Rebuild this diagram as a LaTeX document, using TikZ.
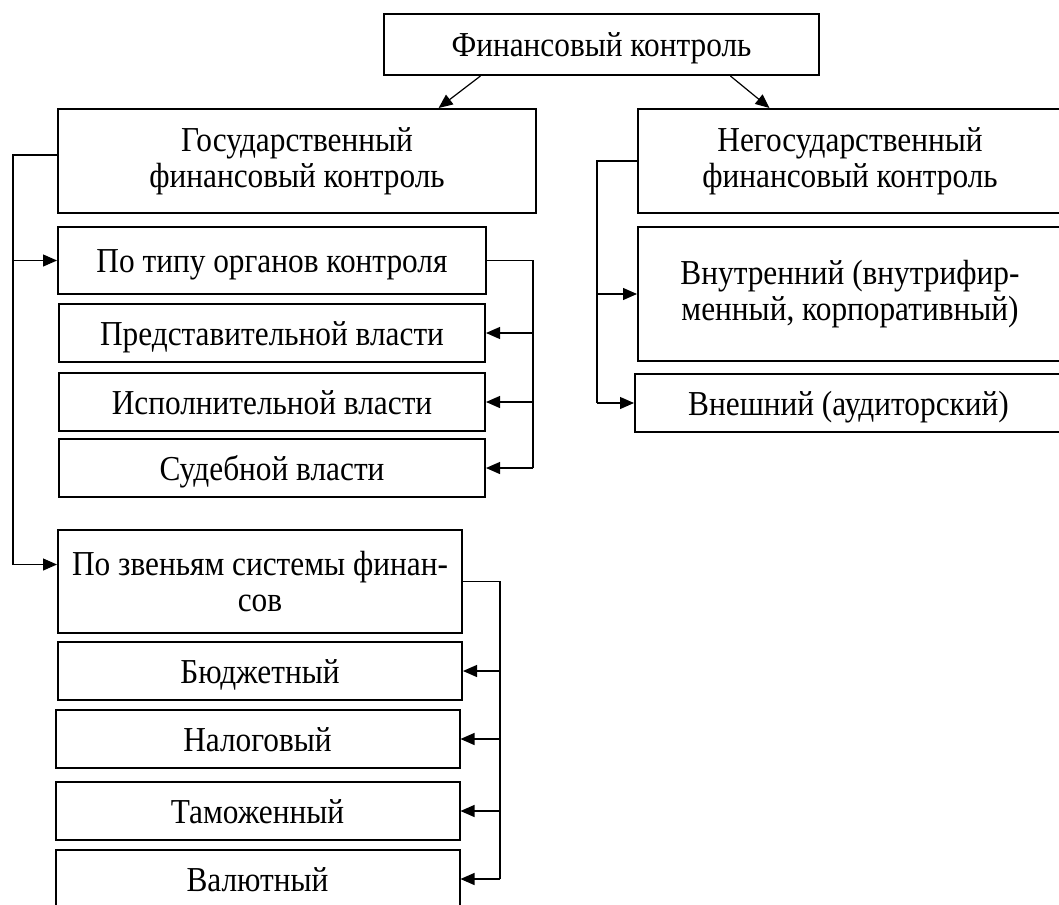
\documentclass[tikz,border=0pt]{standalone}
\usepackage{fontspec}
\setmainfont{Liberation Serif}[FakeStretch=0.895]
\usetikzlibrary{positioning,calc,arrows.meta}

\tikzset{
  box/.style={draw, line width=1pt, inner sep=0pt, align=center,
    font=\fontsize{17.5}{17.8}\selectfont},
  line box/.style={box, text height=12.5pt, text depth=0.5pt},
  sub box/.style={line box, minimum width=213pt, minimum height=29pt},
  link box/.style={line box, minimum width=202pt, minimum height=29pt},
  link/.style={line width=0.6pt}
}

\begin{document}
\begin{tikzpicture}[x=0.5pt, y=-0.5pt, >={Triangle[length=7pt,width=6pt]}]

\useasboundingbox (0,0) rectangle (1059,904);
\clip (0,0) rectangle (1059,904);

\node [line box, minimum width=217.5pt, minimum height=30.5pt] (fin) at (601.5,44.5) {Финансовый контроль};

\node [box, minimum width=239pt, minimum height=52pt] (gov) at (297,161)
  {Государственный\\финансовый контроль};
\node [box, minimum width=212pt, minimum height=52pt] (ngov) at (850,161)
  {Негосударственный\\финансовый контроль};

\node [line box, minimum width=214pt, minimum height=33.5pt] (organ) at (272,260.5) {По типу органов контроля};

\foreach \n/\y/\t in {rep/333/Представительной власти, exe/402/Исполнительной власти, jud/468/Судебной власти}
  \node [sub box] (\n) at (272,\y) {\t};

\node [box, minimum width=202pt, minimum height=51.5pt] (zv) at (260,581.5)
  {По звеньям системы финан-\\сов};

\foreach \n/\xx/\y/\t in {bud/260/671/Бюджетный, tax/257.5/739/Налоговый, cus/257.5/811/Таможенный, cur/257.5/879/Валютный}
  \node [link box] (\n) at (\xx,\y) {\t};

\node [box, minimum width=212pt, minimum height=67pt] (inhouse) at (850,294)
  {Внутренний (внутрифир-\\менный, корпоративный)};
\node [line box, minimum width=213.5pt, minimum height=29pt] (audit) at (848.5,403)
  {Внешний (аудиторский)};

% root arrows
\draw [link, ->] ($(fin.south west)!0.223!(fin.south east)$) -- ($(gov.north west)!0.795!(gov.north east)$);
\draw [link, ->] ($(fin.south west)!0.795!(fin.south east)$) -- ($(ngov.north west)!0.311!(ngov.north east)$);

% buses
\coordinate (gbus) at (13,0);
\coordinate (obus) at (533,0);
\coordinate (zbus) at (500,0);
\coordinate (nbus) at (597,0);

\draw [link, ->] ($(gov.west)+(0,-6)$) -| ($(gbus |- zv.west)+(0,-17)$) -- ($(zv.west)+(0,-17)$);
\draw [link, ->] (gbus |- organ.west) -- (organ.west);

\draw [link] (organ.east) -| (obus |- jud.east);
\foreach \n in {rep,exe,jud}
  \draw [link, ->] (obus |- \n.east) -- (\n.east);

\draw [link] (zv.east) -| (zbus |- cur.east);
\foreach \n in {bud,tax,cus,cur}
  \draw [link, ->] (zbus |- \n.east) -- (\n.east);

\draw [link] (ngov.west) -| (nbus |- audit.west);
\foreach \n in {inhouse,audit}
  \draw [link, ->] (nbus |- \n.west) -- (\n.west);

\end{tikzpicture}
\end{document}
